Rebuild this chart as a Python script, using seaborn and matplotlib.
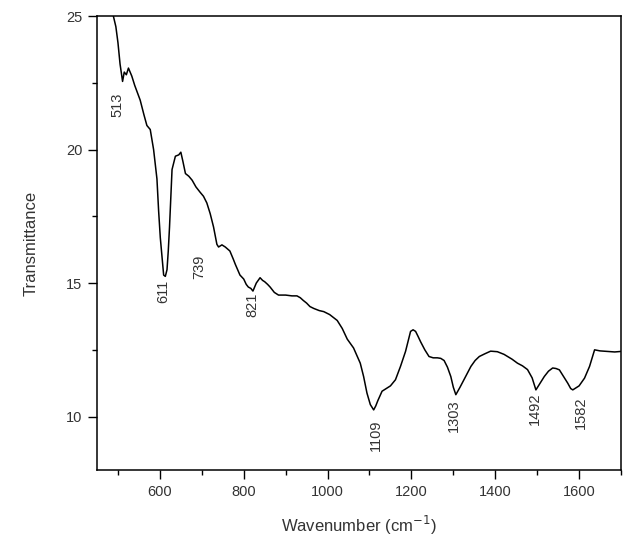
import numpy as np
import pandas as pd
import matplotlib
matplotlib.use("Agg")
import matplotlib.pyplot as plt
import seaborn as sns

# ---- data ----
wavenumber = [485, 489, 495, 500, 505, 511, 515, 520, 525, 533, 540, 553, 562, 569,
              577, 585, 593, 597, 601, 605, 609, 613, 617, 620, 623, 629, 637, 645,
              650, 655, 661, 669, 677, 686, 696, 704, 712, 720, 728, 736, 740, 748,
              756, 767, 775, 780, 791, 800, 806, 811, 817, 822, 830, 839, 845, 850,
              857, 863, 873, 883, 900, 915, 927, 935, 942, 950, 958, 967, 980, 991,
              1005, 1023, 1035, 1047, 1062, 1078, 1086, 1094, 1102, 1110, 1115, 1120,
              1130, 1140, 1150, 1162, 1174, 1186, 1198, 1204, 1210, 1216, 1222, 1232,
              1242, 1252, 1262, 1270, 1278, 1286, 1294, 1300, 1306, 1316, 1326, 1342,
              1352, 1362, 1375, 1389, 1405, 1421, 1440, 1453, 1465, 1477, 1488, 1497,
              1507, 1517, 1527, 1537, 1545, 1553, 1563, 1573, 1580, 1585, 1600, 1613,
              1625, 1637, 1650, 1669, 1685, 1700]
transmittance = [25.3, 25.0, 24.6, 24.0, 23.2, 22.55, 22.9, 22.8, 23.05, 22.75, 22.4,
                 21.85, 21.3, 20.9, 20.75, 20.0, 18.9, 17.7, 16.7, 16.0, 15.3, 15.25,
                 15.5, 16.2, 17.1, 19.25, 19.75, 19.8, 19.9, 19.55, 19.1, 19.0, 18.85,
                 18.6, 18.4, 18.25, 18.0, 17.6, 17.1, 16.45, 16.35, 16.43, 16.35, 16.2,
                 15.9, 15.7, 15.3, 15.15, 14.95, 14.85, 14.8, 14.7, 15.0, 15.2, 15.1,
                 15.05, 14.95, 14.85, 14.65, 14.55, 14.55, 14.52, 14.52, 14.45, 14.35,
                 14.25, 14.12, 14.05, 13.97, 13.93, 13.82, 13.6, 13.3, 12.9, 12.57,
                 12.0, 11.5, 10.88, 10.45, 10.25, 10.4, 10.6, 10.95, 11.05, 11.15,
                 11.38, 11.88, 12.44, 13.19, 13.25, 13.19, 13.0, 12.8, 12.5, 12.25,
                 12.2, 12.2, 12.18, 12.1, 11.85, 11.5, 11.1, 10.82, 11.1, 11.4, 11.88,
                 12.1, 12.25, 12.35, 12.45, 12.43, 12.33, 12.15, 12.0, 11.9, 11.76,
                 11.45, 11.0, 11.25, 11.5, 11.7, 11.82, 11.8, 11.75, 11.5, 11.25,
                 11.05, 11.0, 11.15, 11.44, 11.88, 12.5, 12.46, 12.44, 12.42, 12.44]

peak_positions = [511, 611, 739, 822, 1110, 1306, 1497, 1585]
peak_labels = ["513", "611", "739", "821", "1109", "1303", "1492", "1582"]

x_ticks = [600, 800, 1000, 1200, 1400, 1600]
y_ticks = [10, 15, 20, 25]

# ---- style ----
label_offsets = [(-5, -11), (-1, -4), (-19, -8), (-1, -2), (2, -10), (-2, -5), (-1, -3), (8, -7)]

sns.set_style("ticks")
plt.rcParams["font.family"] = ["Liberation Sans", "DejaVu Sans"]

df = pd.DataFrame({"Wavenumber": wavenumber, "Transmittance": transmittance})

fig = plt.figure(figsize=(6.29, 5.53), dpi=100)
ax = fig.add_axes([97 / 629, 1 - 470 / 553, (621 - 97) / 629, (470 - 16) / 553])

sns.lineplot(data=df, x="Wavenumber", y="Transmittance", ax=ax, color="black",
             linewidth=1.1, sort=False)

ax.set_xlim(450, 1700)
ax.set_ylim(8, 25)
ax.set_xticks(x_ticks)
ax.set_yticks(y_ticks)
ax.set_xticks([500, 700, 900, 1100, 1300, 1500, 1700], minor=True)
ax.set_yticks([12.5, 17.5, 22.5], minor=True)

for s in ax.spines.values():
    s.set_visible(True)
    s.set_linewidth(1.1)
    s.set_color("black")

ax.tick_params(axis="both", which="major", direction="out", length=6.5, width=1.0,
               labelsize=10.5, labelcolor="#333333", pad=4, color="black")
ax.tick_params(axis="both", which="minor", direction="out", length=3.5, width=1.0,
               color="black")
ax.tick_params(top=False, right=False, which="both")

ax.set_xlabel("Wavenumber (cm$^{-1}$)", fontsize=12, color="#333333", labelpad=11)
ax.set_ylabel("Transmittance", fontsize=12, color="#333333", labelpad=20)

for pos, lab, off in zip(peak_positions, peak_labels, label_offsets):
    yv = np.interp(pos, wavenumber, transmittance)
    ax.annotate(lab, xy=(pos, yv), xytext=off, textcoords="offset pixels",
                rotation=90, ha="center", va="top", fontsize=10.5, color="#333333")

fig.savefig("out.png", dpi=100)
